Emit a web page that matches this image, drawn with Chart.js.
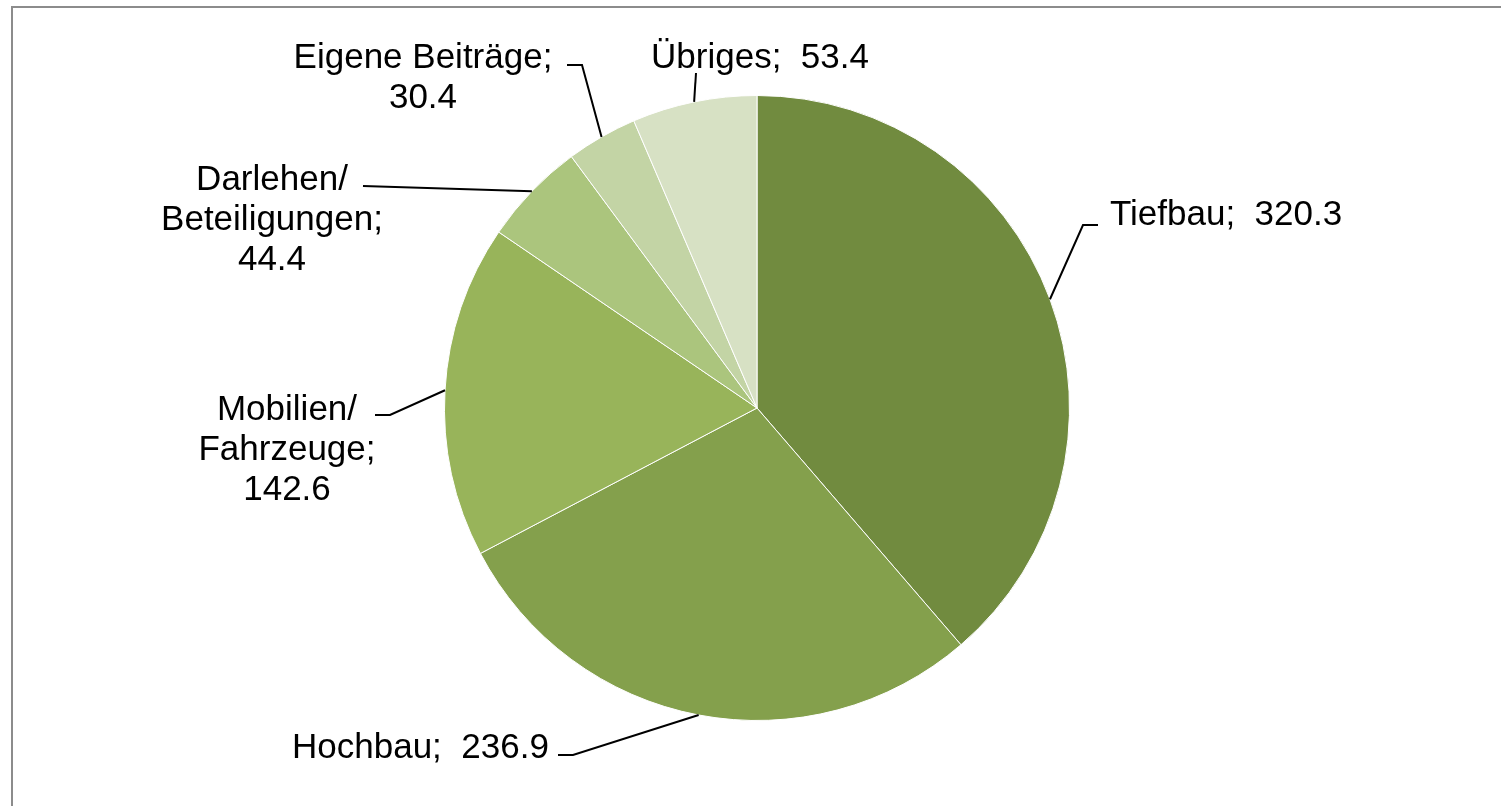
<!DOCTYPE html>
<html>
<head>
<meta charset="utf-8">
<script src="https://cdn.jsdelivr.net/npm/chart.js@4/dist/chart.umd.min.js"></script>
<style>
  html, body { margin: 0; padding: 0; background: #fff; }
  #wrap { width: 1501px; height: 806px; }
</style>
</head>
<body>
<div id="wrap"><canvas id="chart" width="1501" height="806"></canvas></div>
<script>
const categories = ['Tiefbau', 'Hochbau', 'Mobilien/ Fahrzeuge', 'Darlehen/ Beteiligungen', 'Eigene Beiträge', 'Übriges'];
const values = [320.3, 236.9, 142.6, 44.4, 30.4, 53.4];
const colors = ['#718b3f', '#84a04c', '#98b45a', '#abc57d', '#c3d4a5', '#d7e1c4'];

// label text lines for each slice (category split where the original breaks it)
const labelLines = [
    ['Tiefbau;  320.3'],
    ['Hochbau;  236.9'],
    ['Mobilien/', 'Fahrzeuge;', '142.6'],
    ['Darlehen/', 'Beteiligungen;', '44.4'],
    ['Eigene Beiträge;', '30.4'],
    ['Übriges;  53.4']
];
for (let i = 0; i < values.length; i++) {
    // keep the value in sync with the data array
    const l = labelLines[i];
    const last = l[l.length - 1];
    if (!last.endsWith(values[i].toFixed(1))) console.log('label mismatch', i);
}

// where each data label sits and how its leader line bends
const labelPos = [
    { x: 1110, y: 225, align: 'left', path: [[1083, 225], [1098, 225]] },
    { x: 292, y: 758, align: 'left', path: [[573, 755], [558, 755]] },
    { x: 287, y: 420, align: 'center', path: [[390, 415], [375, 415]] },
    { x: 272, y: 190, align: 'center', path: [[363, 186]] },
    { x: 423, y: 68, align: 'center', path: [[582, 65], [567, 65]] },
    { x: 760, y: 68, align: 'center', path: [[696, 73]] }
];

const framePlugin = {
    id: 'frame',
    beforeDraw(chart) {
        const c = chart.ctx;
        c.save();
        c.fillStyle = '#fff';
        c.fillRect(0, 0, chart.width, chart.height);
        c.strokeStyle = '#8c8c8c';
        c.lineWidth = 2;
        c.strokeRect(12, 7, chart.width + 20, chart.height + 20);
        c.restore();
    }
};

const labelPlugin = {
    id: 'pieLabels',
    afterDatasetsDraw(chart) {
        const c = chart.ctx;
        const meta = chart.getDatasetMeta(0);
        c.save();
        c.font = '35px "Liberation Sans", Arial, sans-serif';
        c.fillStyle = '#000';
        c.strokeStyle = '#000';
        c.lineWidth = 2;
        meta.data.forEach((arc, i) => {
            const p = labelPos[i];
            const mid = (arc.startAngle + arc.endAngle) / 2;
            const ax = arc.x + Math.cos(mid) * arc.outerRadius;
            const ay = arc.y + Math.sin(mid) * arc.outerRadius;
            c.beginPath();
            c.moveTo(ax, ay);
            p.path.forEach(pt => c.lineTo(pt[0], pt[1]));
            c.stroke();
            c.textAlign = p.align;
            c.textBaseline = 'alphabetic';
            labelLines[i].forEach((t, j) => c.fillText(t, p.x, p.y + j * 40));
        });
        c.restore();
    }
};

const data = {
    labels: categories,
    datasets: [{
        data: values,
        backgroundColor: colors,
        borderColor: '#fff',
        borderWidth: 1
    }]
};

const config = {
    type: 'pie',
    data: data,
    options: {
        responsive: false,
        animation: false,
        layout: { padding: { top: 95, bottom: 85, left: 200, right: 187 } },
        plugins: {
            legend: { display: false },
            tooltip: { enabled: false }
        }
    },
    plugins: [framePlugin, labelPlugin]
};

new Chart(document.getElementById('chart'), config);
</script>
</body>
</html>
